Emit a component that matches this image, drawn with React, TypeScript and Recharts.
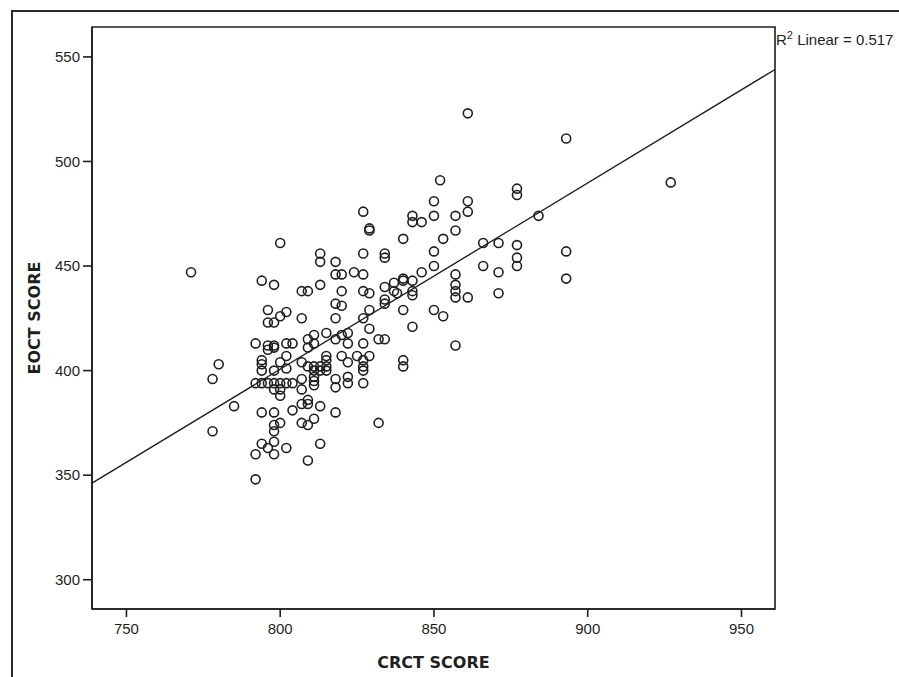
import React from 'react';
import {
  ScatterChart,
  Scatter,
  XAxis,
  YAxis,
  ReferenceLine,
  ReferenceArea,
  Label,
} from 'recharts';

// CRCT score (x) and EOCT score (y) of each student
const crctScores: number[] = [
  771, 794, 798, 800, 813, 813, 818, 818, 820, 824,
  827, 827, 829, 829, 827, 834, 834, 840, 813, 807,
  809, 820, 827, 829, 834, 850, 850, 843, 843, 846,
  852, 850, 850, 853, 846, 837, 840, 840, 843, 843,
  837, 861, 893, 927, 861, 861, 857, 857, 877, 877,
  884, 866, 871, 877, 877, 877, 893, 893, 866, 871,
  857, 857, 857, 861, 871, 857, 853, 857, 778, 780,
  778, 785, 792, 792, 792, 794, 794, 794, 792, 794,
  796, 798, 800, 802, 804, 796, 796, 798, 800, 802,
  807, 794, 798, 798, 800, 798, 794, 796, 798, 798,
  802, 796, 798, 796, 798, 798, 800, 802, 798, 800,
  800, 802, 802, 804, 807, 807, 807, 804, 807, 809,
  809, 807, 809, 811, 809, 813, 813, 818, 832, 809,
  811, 809, 811, 809, 811, 813, 815, 811, 813, 815,
  811, 811, 811, 815, 815, 815, 818, 820, 822, 822,
  822, 820, 818, 818, 822, 822, 827, 827, 827, 827,
  827, 825, 829, 829, 832, 834, 827, 829, 818, 818,
  820, 840, 843, 840, 840, 850, 834, 834, 838, 843,
];

const eoctScores: number[] = [
  447, 443, 441, 461, 456, 452, 452, 446, 446, 447,
  446, 476, 467, 468, 456, 456, 454, 463, 441, 438,
  438, 438, 438, 437, 440, 481, 474, 474, 471, 471,
  491, 457, 450, 463, 447, 442, 444, 443, 443, 438,
  438, 523, 511, 490, 481, 476, 474, 467, 487, 484,
  474, 461, 461, 460, 454, 450, 457, 444, 450, 447,
  446, 441, 438, 435, 437, 435, 426, 412, 396, 403,
  371, 383, 348, 360, 413, 405, 403, 400, 394, 394,
  394, 394, 394, 394, 394, 429, 423, 423, 426, 428,
  425, 380, 380, 374, 375, 371, 365, 363, 366, 360,
  363, 412, 412, 410, 411, 400, 404, 401, 391, 391,
  388, 407, 413, 413, 404, 396, 391, 381, 384, 384,
  386, 375, 374, 377, 357, 365, 383, 380, 375, 415,
  417, 411, 413, 402, 402, 402, 402, 400, 400, 400,
  397, 395, 393, 418, 407, 405, 415, 417, 418, 413,
  404, 407, 396, 392, 397, 394, 413, 405, 402, 400,
  394, 407, 407, 420, 415, 415, 425, 429, 425, 432,
  431, 429, 421, 405, 402, 429, 432, 434, 437, 436,
];

const xTicks: number[] = [750, 800, 850, 900, 950];
const yTicks: number[] = [300, 350, 400, 450, 500, 550];
const X_DOMAIN: [number, number] = [738.8, 960.9];
const Y_DOMAIN: [number, number] = [286, 564.3];

// fitted linear regression (R² = 0.517)
const fitSlope = 0.8906;
const fitIntercept = -311.8;
const rSquared = '0.517';
const xTitle = 'CRCT SCORE';
const yTitle = 'EOCT SCORE';

const data = crctScores.map((x, i) => ({ x, y: eoctScores[i] }));
const fitY = (x: number) => fitSlope * x + fitIntercept;

const INK = '#1f1f1f';
const tickStyle = { fill: INK, fontSize: 15, fontFamily: '"Liberation Sans", Arial, sans-serif' };
const titleFont = '"DejaVu Sans", sans-serif';

const Ring = (props: any) => {
  const { cx, cy } = props;
  if (cx == null || cy == null) return null;
  return <circle cx={cx} cy={cy} r={4.5} fill="none" stroke={INK} strokeWidth={1.6} />;
};

export default function App() {
  return (
    <div style={{ position: 'absolute', left: 0, top: 0, width: 899, height: 677, background: '#fff', overflow: 'hidden' }}>
      <div
        style={{
          position: 'absolute',
          left: 11,
          top: 10,
          width: 900,
          height: 700,
          borderLeft: `2px solid #2a2a2a`,
          borderTop: `2px solid #2a2a2a`,
        }}
      />
      <div style={{ position: 'absolute', left: 0, top: 0 }}>
        <ScatterChart width={899} height={677} margin={{ top: 27, right: 124, bottom: 0, left: 0 }}>
          <XAxis
            type="number"
            dataKey="x"
            domain={X_DOMAIN}
            ticks={xTicks}
            allowDataOverflow
            height={68}
            tickSize={8}
            tickMargin={6}
            axisLine={{ stroke: INK, strokeWidth: 1.6 }}
            tickLine={{ stroke: INK, strokeWidth: 1.6 }}
            tick={tickStyle}
          >
            <Label
              content={(p: any) => {
                const vb = p.viewBox || {};
                return (
                  <text
                    x={vb.x + vb.width / 2}
                    y={vb.y + vb.height - 9}
                    textAnchor="middle"
                    fill={INK}
                    fontSize={16}
                    fontWeight="bold"
                    fontFamily={titleFont}
                  >
                    {xTitle}
                  </text>
                );
              }}
            />
          </XAxis>
          <YAxis
            type="number"
            dataKey="y"
            domain={Y_DOMAIN}
            ticks={yTicks}
            allowDataOverflow
            width={92}
            tickSize={9}
            tickMargin={3}
            axisLine={{ stroke: INK, strokeWidth: 1.6 }}
            tickLine={{ stroke: INK, strokeWidth: 1.6 }}
            tick={tickStyle}
          >
            <Label
              content={(p: any) => {
                const vb = p.viewBox || {};
                const cx = 40;
                const cy = vb.y + vb.height / 2;
                return (
                  <text
                    x={cx}
                    y={cy}
                    transform={`rotate(-90, ${cx}, ${cy})`}
                    textAnchor="middle"
                    fill={INK}
                    fontSize={16}
                    fontWeight="bold"
                    fontFamily={titleFont}
                  >
                    {yTitle}
                  </text>
                );
              }}
            />
          </YAxis>
          <ReferenceArea
            x1={X_DOMAIN[0]}
            x2={X_DOMAIN[1]}
            y1={Y_DOMAIN[0]}
            y2={Y_DOMAIN[1]}
            fill="none"
            fillOpacity={0}
            stroke={INK}
            strokeWidth={1.6}
            ifOverflow="visible"
          >
            <Label
              content={(p: any) => {
                const vb = p.viewBox || {};
                return (
                  <text
                    x={vb.x + vb.width + 1}
                    y={vb.y + 18}
                    fill={INK}
                    fontSize={15}
                    fontFamily='"Liberation Sans", Arial, sans-serif'
                  >
                    R
                    <tspan fontSize={11} dy={-6}>2</tspan>
                    <tspan dy={6}>{` Linear = ${rSquared}`}</tspan>
                  </text>
                );
              }}
            />
          </ReferenceArea>
          <ReferenceLine
            segment={[
              { x: X_DOMAIN[0], y: fitY(X_DOMAIN[0]) },
              { x: X_DOMAIN[1], y: fitY(X_DOMAIN[1]) },
            ]}
            stroke={INK}
            strokeWidth={1.4}
            ifOverflow="visible"
          />
          <Scatter data={data} shape={Ring} isAnimationActive={false} />
        </ScatterChart>
      </div>
    </div>
  );
}
